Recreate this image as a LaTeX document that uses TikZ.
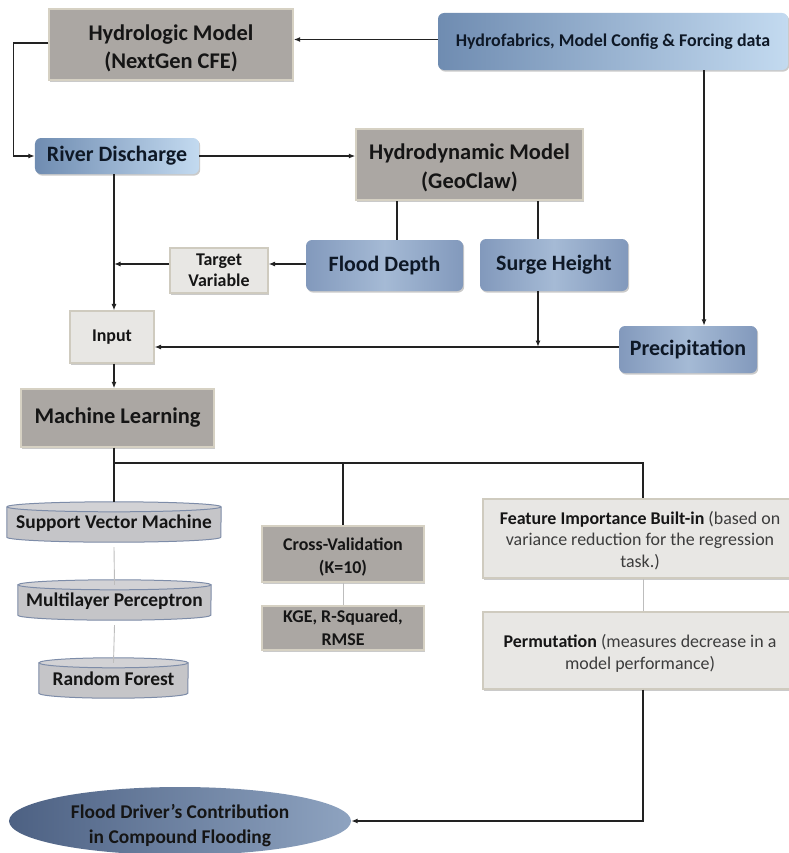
\documentclass[tikz,border=0pt]{standalone}
\usepackage{fontspec}
\setmainfont{Carlito}
\usetikzlibrary{arrows.meta,shadows,calc,shapes.geometric}
\definecolor{linec}{HTML}{222222}
\definecolor{thinc}{HTML}{BDBDBD}
\definecolor{grayf}{HTML}{ABA7A3}
\definecolor{grayb}{HTML}{D6D1C3}
\definecolor{lightf}{HTML}{E8E7E4}
\definecolor{lightb}{HTML}{CFCBBF}
\definecolor{bluedk}{HTML}{6F8CB1}
\definecolor{bluelt}{HTML}{C3DAF0}
\definecolor{bluemd}{HTML}{A5BAD5}
\definecolor{blueed}{HTML}{8299BC}
\definecolor{elldk}{HTML}{4D6183}
\definecolor{elllt}{HTML}{8EA3C0}
\definecolor{cylf}{HTML}{C5C5C8}
\definecolor{cyltf}{HTML}{D2D2D5}
\definecolor{cylb}{HTML}{7D8CA8}
\definecolor{txt}{HTML}{151515}
\definecolor{txtb}{HTML}{0E1826}
\definecolor{txtg}{HTML}{3C3C3C}
\tikzset{
  arr/.style={draw=linec, line width=1.3bp, -{Latex[length=6.5bp,width=5bp]}},
  ln/.style={draw=linec, line width=1.3bp},
  thinln/.style={draw=thinc, line width=0.9bp},
  shad/.style={drop shadow={shadow xshift=1.2bp, shadow yshift=-1.6bp, opacity=0.35, fill=black!60}},
  graybox/.style={rectangle, fill=grayf, draw=grayb, line width=1.3bp, shad, inner sep=0pt},
  lightbox/.style={rectangle, fill=lightf, draw=lightb, line width=1.1bp, shad, align=center, inner sep=0pt, text=txt},
  bluebox/.style={rectangle, rounded corners=6bp, shad, align=center, inner sep=0pt, text=txtb, left color=blueed, right color=blueed, middle color=bluemd},
  blueside/.style={rectangle, rounded corners=6bp, shad, align=center, inner sep=0pt, text=txtb, left color=bluedk, right color=bluelt},
  cylnode/.style={rectangle, inner sep=0pt},
  tx/.style={inner sep=0pt, align=center, text=txt},
  fbig/.style={font=\fontsize{22.5}{28.5}\selectfont\bfseries},
  fmed/.style={font=\fontsize{22}{26}\selectfont\bfseries},
  fsm/.style={font=\fontsize{18}{21}\selectfont\bfseries},
  fcv/.style={font=\fontsize{18}{23}\selectfont\bfseries},
  fcyl/.style={font=\fontsize{19.5}{22}\selectfont\bfseries},
  fpar/.style={font=\fontsize{18}{21.5}\selectfont},
}
\newcommand\drawcyl[2]{%
  \fill[cylf] ([yshift=-5bp]#1.north west) -- ([yshift=5bp]#1.south west)
     arc[start angle=180,end angle=360,x radius=#2,y radius=5bp]
     -- ([yshift=-5bp]#1.north east) -- cycle;
  \draw[cylb, line width=1bp] ([yshift=-5bp]#1.north west) -- ([yshift=5bp]#1.south west)
     arc[start angle=180,end angle=360,x radius=#2,y radius=5bp]
     -- ([yshift=-5bp]#1.north east);
  \draw[cylb, line width=1bp, fill=cyltf] ([yshift=-5bp]#1.north) ellipse[x radius=#2, y radius=5bp];
}
\begin{document}
\begin{tikzpicture}[x=1bp,y=-1bp]
\useasboundingbox (0,0) rectangle (789,853);
\coordinate (vx) at (114,0);
\coordinate (fx) at (643,0);

% boxes
\node[graybox, minimum width=244bp, minimum height=71bp] (hydro) at (171,44.5) {};
\node[tx, fbig] (hydrot) at ([yshift=-4bp]hydro.center) {Hydrologic Model\\(NextGen CFE)};
\node[blueside, fsm, minimum width=350bp, minimum height=57bp] (fab) at (613,41.5) {Hydrofabrics, Model Config \& Forcing data};
\node[blueside, fmed, minimum width=164bp, minimum height=36bp] (river) at (117,156) {River Discharge};
\node[graybox, minimum width=227bp, minimum height=71bp] (dyn) at (469.5,164.5) {};
\node[tx, fbig] (dynt) at ([yshift=-3.5bp]dyn.center) {Hydrodynamic Model\\(GeoClaw)};
\node[bluebox, fmed, minimum width=157bp, minimum height=51bp] (flood) at (384.5,265.5) {Flood Depth};
\node[bluebox, fmed, minimum width=148bp, minimum height=52bp] (surge) at (554,265) {Surge Height};
\node[bluebox, fmed, minimum width=138bp, minimum height=47bp] (precip) at (688,349.5) {Precipitation};
\node[lightbox, fsm, minimum width=98bp, minimum height=45bp] (target) at (219,270.5) {Target\\Variable};
\node[lightbox, fsm, minimum width=84bp, minimum height=52bp] (input) at (112,337) {Input};
\node[graybox, tx, fbig, minimum width=193bp, minimum height=58bp] (ml) at (117.5,418) {Machine Learning};

\node[cylnode, minimum width=214bp, minimum height=40bp] (svm) at (114,522) {};
\node[cylnode, minimum width=193bp, minimum height=40bp] (mlp) at (114.5,600) {};
\node[cylnode, minimum width=149bp, minimum height=40bp] (rf) at (113.5,678) {};
\drawcyl{svm}{107bp}
\drawcyl{mlp}{96.5bp}
\drawcyl{rf}{74.5bp}
\node[tx, fcyl] (svmt) at ([yshift=-1bp]svm.center) {Support Vector Machine};
\node[tx, fcyl] (mlpt) at ([yshift=-1bp]mlp.center) {Multilayer Perceptron};
\node[tx, fcyl] (rft) at ([yshift=-1bp]rf.center) {Random Forest};

\node[graybox, line width=1.1bp, minimum width=162bp, minimum height=56bp] (cv) at (343,554) {};
\node[tx, fcv] (cvt) at ([yshift=-3bp]cv.center) {Cross-Validation\\(K=10)};
\node[graybox, tx, fcv, align=center, line width=1.1bp, minimum width=162bp, minimum height=44bp] (kge) at (343,628) {KGE, R-Squared,\\RMSE};
\node[lightbox, minimum width=314bp, minimum height=79bp] (fi) at (640,538.5) {};
\node[tx, fpar, text=txtg] (fit) at ([yshift=-2bp]fi.center) {\textbf{\color{txt}Feature Importance Built-in} (based on\\variance reduction for the regression\\task.)};
\node[lightbox, minimum width=314bp, minimum height=77bp] (perm) at (640,650.5) {};
\node[tx, fpar, text=txtg] (permt) at ([yshift=-3bp]perm.center) {\textbf{\color{txt}Permutation} (measures decrease in a\\model performance)};
\node[ellipse, left color=elldk, right color=elllt, minimum width=342bp, minimum height=68bp, inner sep=0pt] (ell) at (180,821) {};
\node[tx, font=\fontsize{19.5}{25}\selectfont\bfseries] (ellt) at ([yshift=-5bp]ell.center) {Flood Driver’s Contribution\\in Compound Flooding};

% connectors
\draw[arr] ([yshift=2bp]fab.west) -- ([yshift=2bp]fab.west -| hydro.east);
\draw[arr] ([yshift=1.5bp]hydro.west) -- ++(-35,0) |- (river.west);
\draw[arr] (river.east) -- (river.east -| dyn.west);
\draw[ln] ([xshift=12.5bp]flood.north) -- ([xshift=12.5bp]flood.north |- dyn.south);
\draw[ln] ([xshift=-16bp]surge.north) -- ([xshift=-16bp]surge.north |- dyn.south);
\coordinate (pin) at ([yshift=2.5bp]precip.west);
\draw[arr] ([xshift=-16bp]surge.south) -- ([xshift=-16bp]surge.south |- pin);
\draw[arr] (pin) -- (pin -| input.east);
\draw[arr] ([xshift=16bp]precip.north |- fab.south) -- ([xshift=16bp]precip.north);
\coordinate (fl) at ([yshift=1.5bp]flood.west);
\draw[arr] (fl) -- (fl -| target.east);
\draw[arr] (fl -| target.west) -- (fl -| vx);
\draw[arr] (river.south -| vx) -- (input.north -| vx);
\draw[arr] (input.south -| vx) -- (ml.north -| vx);
\coordinate (bus) at (114,463);
\draw[ln] (ml.south -| vx) -- (svm.north -| vx);
\draw[ln] (bus) -- (bus -| fx) -- (fx |- fi.north);
\draw[ln] (bus -| cv.north) -- (cv.north);
\draw[thinln] ([yshift=-5bp]svm.south) -- ([yshift=-5bp]mlp.north);
\draw[thinln] ([yshift=-5bp]mlp.south) -- ([yshift=-5bp]rf.north);
\draw[thinln] (cv.south) -- (kge.north);
\draw[thinln] (fx |- fi.south) -- (fx |- perm.north);
\draw[arr] (fx |- perm.south) |- (ell.east);
\end{tikzpicture}
\end{document}
